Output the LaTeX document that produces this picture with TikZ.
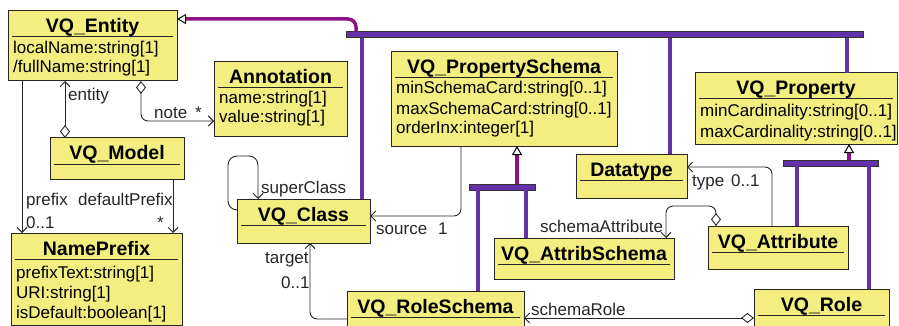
\documentclass[tikz,border=0pt]{standalone}
\usepackage{fontspec}
\setmainfont{Liberation Sans}
\usetikzlibrary{arrows.meta}
\definecolor{classfill}{RGB}{244,237,128}
\definecolor{genpurple}{RGB}{100,50,168}
\definecolor{inhmagenta}{RGB}{140,18,130}
\begin{document}
\begin{tikzpicture}[x=1pt,y=-1pt,
    classbox/.style={draw=black!85,fill=classfill,line width=1pt,inner sep=0pt,outer sep=0pt,anchor=north west},
    ctitle/.style={anchor=base,inner sep=0pt,font=\fontsize{19.5}{22}\selectfont\bfseries},
    attr/.style={anchor=base west,inner sep=0pt,font=\fontsize{17}{20}\selectfont},
    lbl/.style={anchor=base west,inner sep=0pt,font=\fontsize{17}{20}\selectfont,text=black!85},
    uline/.style={draw=black!85,line width=1pt},
    assoc/.style={draw=black!85,line width=0.9pt,rounded corners=7pt},
    nav/.style={-{Straight Barb[length=5pt,width=10pt]}},
    aggr/.style={{Diamond[open,fill=white,length=13pt,width=10pt]}-{Straight Barb[length=5pt,width=10pt]}},
    genbar/.style={draw=black!80,fill=genpurple,line width=1pt,inner sep=0pt,outer sep=0pt,anchor=north west,minimum height=6pt},
    gen/.style={draw=genpurple,line width=3.5pt},
    inh/.style={draw=inhmagenta,line width=3.5pt,-{Triangle[open,fill=white,color=black,line width=1pt,length=9pt,width=10pt]}},
  ]
  \useasboundingbox (0,0) rectangle (899,326);

  % classes
  \node[classbox,minimum width=169pt,minimum height=70pt] (entity) at (8,11) {};
  \node[classbox,minimum width=133pt,minimum height=75pt] (annotation) at (214,62) {};
  \node[classbox,minimum width=134pt,minimum height=41pt] (model) at (50,138) {};
  \node[classbox,minimum width=171pt,minimum height=92pt] (nameprefix) at (11,233) {};
  \node[classbox,minimum width=133pt,minimum height=44pt] (class) at (237,199) {};
  \node[classbox,minimum width=226pt,minimum height=94pt] (propschema) at (391,52) {};
  \node[classbox,minimum width=111pt,minimum height=44pt] (datatype) at (576,154) {};
  \node[classbox,minimum width=202pt,minimum height=71pt] (property) at (695,73) {};
  \node[classbox,minimum width=180pt,minimum height=41pt] (attribschema) at (494,238) {};
  \node[classbox,minimum width=140pt,minimum height=43pt] (attribute) at (708,226) {};
  \node[classbox,minimum width=177pt,minimum height=40pt] (roleschema) at (347,291) {};
  \node[classbox,minimum width=135pt,minimum height=40pt] (role) at (754,289) {};

  % titles
  \node[ctitle] (entity-title) at ([yshift=-22pt]entity.north) {VQ\_Entity};
  \node[ctitle] (annotation-title) at ([yshift=-22pt]annotation.north) {Annotation};
  \node[ctitle] (model-title) at ([yshift=-22pt]model.north) {VQ\_Model};
  \node[ctitle] (nameprefix-title) at ([yshift=-22pt]nameprefix.north) {NamePrefix};
  \node[ctitle] (class-title) at ([yshift=-22pt]class.north) {VQ\_Class};
  \node[ctitle] (propschema-title) at ([yshift=-22pt]propschema.north) {VQ\_PropertySchema};
  \node[ctitle] (datatype-title) at ([yshift=-22pt]datatype.north) {Datatype};
  \node[ctitle] (property-title) at ([yshift=-22pt]property.north) {VQ\_Property};
  \node[ctitle] (attribschema-title) at ([yshift=-22pt]attribschema.north) {VQ\_AttribSchema};
  \node[ctitle] (attribute-title) at ([yshift=-22pt]attribute.north) {VQ\_Attribute};
  \node[ctitle] (roleschema-title) at ([yshift=-22pt]roleschema.north) {VQ\_RoleSchema};
  \node[ctitle] (role-title) at ([yshift=-22pt]role.north) {VQ\_Role};

  % title rules
  \draw[uline] ([xshift=4pt,yshift=-26pt]entity.north west) -- ([xshift=-4pt,yshift=-26pt]entity.north east);
  \draw[uline] ([xshift=4pt,yshift=-26pt]annotation.north west) -- ([xshift=-4pt,yshift=-26pt]annotation.north east);
  \draw[uline] ([xshift=4pt,yshift=-26pt]model.north west) -- ([xshift=-4pt,yshift=-26pt]model.north east);
  \draw[uline] ([xshift=4pt,yshift=-26pt]nameprefix.north west) -- ([xshift=-4pt,yshift=-26pt]nameprefix.north east);
  \draw[uline] ([xshift=4pt,yshift=-26pt]class.north west) -- ([xshift=-4pt,yshift=-26pt]class.north east);
  \draw[uline] ([xshift=4pt,yshift=-26pt]propschema.north west) -- ([xshift=-4pt,yshift=-26pt]propschema.north east);
  \draw[uline] ([xshift=4pt,yshift=-26pt]datatype.north west) -- ([xshift=-4pt,yshift=-26pt]datatype.north east);
  \draw[uline] ([xshift=4pt,yshift=-26pt]property.north west) -- ([xshift=-4pt,yshift=-26pt]property.north east);
  \draw[uline] ([xshift=4pt,yshift=-26pt]attribschema.north west) -- ([xshift=-4pt,yshift=-26pt]attribschema.north east);
  \draw[uline] ([xshift=4pt,yshift=-26pt]attribute.north west) -- ([xshift=-4pt,yshift=-26pt]attribute.north east);
  \draw[uline] ([xshift=4pt,yshift=-26pt]roleschema.north west) -- ([xshift=-4pt,yshift=-26pt]roleschema.north east);
  \draw[uline] ([xshift=4pt,yshift=-26pt]role.north west) -- ([xshift=-4pt,yshift=-26pt]role.north east);

  % attributes
  \node[attr] (entity-a1) at ([xshift=5pt,yshift=-43pt]entity.north west) {localName:string[1]};
  \node[attr] (entity-a2) at ([xshift=5pt,yshift=-62pt]entity.north west) {/fullName:string[1]};
  \node[attr] (annotation-a1) at ([xshift=5pt,yshift=-42pt]annotation.north west) {name:string[1]};
  \node[attr] (annotation-a2) at ([xshift=5pt,yshift=-61pt]annotation.north west) {value:string[1]};
  \node[attr] (nameprefix-a1) at ([xshift=5pt,yshift=-45pt]nameprefix.north west) {prefixText:string[1]};
  \node[attr] (nameprefix-a2) at ([xshift=5pt,yshift=-65pt]nameprefix.north west) {URI:string[1]};
  \node[attr] (nameprefix-a3) at ([xshift=5pt,yshift=-85pt]nameprefix.north west) {isDefault:boolean[1]};
  \node[attr] (propschema-a1) at ([xshift=5pt,yshift=-42pt]propschema.north west) {minSchemaCard:string[0..1]};
  \node[attr] (propschema-a2) at ([xshift=5pt,yshift=-62pt]propschema.north west) {maxSchemaCard:string[0..1]};
  \node[attr] (propschema-a3) at ([xshift=5pt,yshift=-82pt]propschema.north west) {orderInx:integer[1]};
  \node[attr] (property-a1) at ([xshift=5pt,yshift=-44pt]property.north west) {minCardinality:string[0..1]};
  \node[attr] (property-a2) at ([xshift=5pt,yshift=-64pt]property.north west) {maxCardinality:string[0..1]};

  % generalisation
  \node[genbar,minimum width=517pt] (bar1) at (346,32) {};
  \node[genbar,minimum width=66pt] (bar2) at (469,184) {};
  \node[genbar,minimum width=95pt] (bar3) at (783,160) {};
  \draw[inh,rounded corners=8pt] ([xshift=10pt]bar1.north west) |- ([yshift=-8pt]entity.north east);
  \draw[gen] ([xshift=125pt]class.north west) -- ([xshift=125pt]class.north west |- bar1.south);
  \draw[gen] ([xshift=94pt]datatype.north west) -- ([xshift=94pt]datatype.north west |- bar1.south);
  \draw[gen] ([xshift=152pt]property.north west) -- ([xshift=152pt]property.north west |- bar1.south);
  \draw[inh] ([xshift=48pt]bar2.north west) -- ([xshift=48pt]bar2.north west |- propschema.south);
  \draw[gen] ([xshift=9pt]bar2.south west) -- ([xshift=9pt]bar2.south west |- roleschema.north);
  \draw[gen] ([xshift=57pt]bar2.south west) -- ([xshift=57pt]bar2.south west |- attribschema.north);
  \draw[inh] ([xshift=66pt]bar3.north west) -- ([xshift=66pt]bar3.north west |- property.south);
  \draw[gen] ([xshift=14pt]bar3.south west) -- ([xshift=14pt]bar3.south west |- attribute.north);
  \draw[gen] ([xshift=86pt]bar3.south west) -- ([xshift=86pt]bar3.south west |- role.north);

  % associations
  \draw[assoc,aggr] ([xshift=15pt]model.north west) -- ([xshift=15pt]model.north west |- entity.south);
  \draw[assoc,aggr] ([xshift=133pt]entity.south west) |- ([yshift=16pt]annotation.south west);
  \draw[assoc,nav] ([xshift=14pt]entity.south west) -- ([xshift=14pt]entity.south west |- nameprefix.north);
  \draw[assoc,nav] ([xshift=-11pt]model.south east) -- ([xshift=-11pt]model.south east |- nameprefix.north);
  \draw[assoc,nav,rounded corners=9pt] ([yshift=-11pt]class.north west) -| ++(-9,-54) -| ([xshift=21pt]class.north west);
  \draw[assoc,nav] ([xshift=70pt]propschema.south west) |- ([yshift=5pt]class.east);
  \draw[assoc,nav] ([yshift=-28pt]roleschema.north west) -| ([xshift=73pt]class.south west);
  \draw[assoc,nav] ([xshift=64pt]attribute.north west) |- ([yshift=9pt]datatype.east);
  \draw[assoc,aggr] ([xshift=8pt]attribute.north west) -- ++(0,-20) -| ([xshift=-8pt]attribschema.north east);
  \draw[assoc,aggr] ([yshift=-29pt]role.north west) -- ([yshift=-29pt]role.north west -| roleschema.east);

  % role names and multiplicities
  \node[lbl] (l-entity) at (68,101) {entity};
  \node[lbl] (l-note) at (154,118) {note};
  \node[lbl] (m-note) at (195,118) {*};
  \node[lbl] (l-prefix) at (26,205) {prefix};
  \node[lbl] (m-prefix) at (26,228) {0..1};
  \node[lbl] (l-defaultprefix) at (78,205) {defaultPrefix};
  \node[lbl] (m-defaultprefix) at (157,228) {*};
  \node[lbl] (l-superclass) at (261,193) {superClass};
  \node[lbl] (l-source) at (376,234) {source};
  \node[lbl] (m-source) at (438,234) {1};
  \node[lbl] (l-target) at (265,263) {target};
  \node[lbl] (m-target) at (281,288) {0..1};
  \node[lbl] (l-schemaattribute) at (540,232) {schemaAttribute};
  \node[lbl] (l-type) at (692,186) {type};
  \node[lbl] (m-type) at (731,186) {0..1};
  \node[lbl] (l-schemarole) at (531,315) {schemaRole};
\end{tikzpicture}
\end{document}
